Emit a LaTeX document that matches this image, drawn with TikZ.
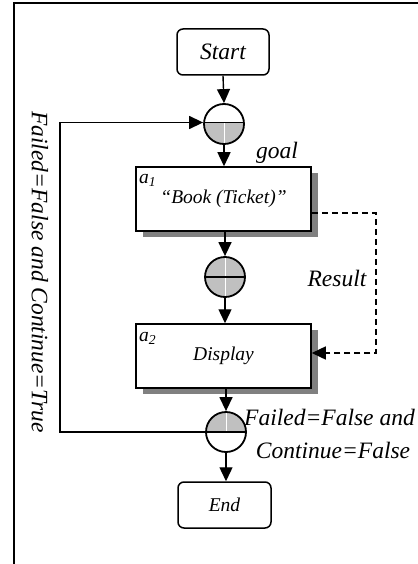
\documentclass[tikz,border=0pt]{standalone}
\usepackage{fontspec}
\setmainfont{Liberation Serif}
\usetikzlibrary{arrows.meta,calc}

\definecolor{joinfill}{HTML}{C0C0C0}
\definecolor{shadowgray}{HTML}{808080}

\tikzset{
  big/.style={font=\fontsize{23.5}{28}\selectfont\itshape},
  mid/.style={font=\fontsize{19.5}{23}\selectfont\itshape},
  terminal/.style={draw, line width=1.5pt, rounded corners=6pt, fill=white,
    inner sep=0pt, mid},
  activity/.style={draw, line width=1.5pt, fill=white, inner sep=0pt,
    minimum width=175pt, minimum height=64pt, mid},
  junction/.style={circle, draw, line width=1.8pt, minimum size=40pt, inner sep=0pt},
  flow/.style={line width=1.4pt, -{Triangle[length=14pt,width=13pt]}},
  dataflow/.style={line width=1.4pt, dash pattern=on 6pt off 4pt,
    -{Triangle[length=14pt,width=13pt]}},
  loopline/.style={line width=1.4pt},
  % lower half of the junction shaded
  lowerhalf/.style={path picture={
    \fill[joinfill] ($(path picture bounding box.west)+(0,-1.5)$)
      rectangle (path picture bounding box.south east);
    \draw[white, line width=0.6pt] ($(path picture bounding box.center)+(0,-1.5)$)
      -- (path picture bounding box.south);
    \draw[line width=1.4pt] ($(path picture bounding box.west)+(0,-1.5)$)
      -- ($(path picture bounding box.east)+(0,-1.5)$);}},
  % junction shaded all over
  fullshade/.style={path picture={
    \fill[joinfill] (path picture bounding box.south west)
      rectangle (path picture bounding box.north east);
    \draw[white, line width=0.6pt] (path picture bounding box.north)
      -- (path picture bounding box.south);
    \draw[line width=1.4pt] (path picture bounding box.west)
      -- (path picture bounding box.east);}},
  % upper half of the junction shaded
  upperhalf/.style={path picture={
    \fill[joinfill] (path picture bounding box.west)
      rectangle (path picture bounding box.north east);
    \draw[white, line width=0.6pt] (path picture bounding box.center)
      -- (path picture bounding box.north);
    \draw[line width=1.4pt] (path picture bounding box.west)
      -- (path picture bounding box.east);}},
}

\begin{document}
\begin{tikzpicture}[x=1pt, y=-1pt]
  \useasboundingbox (0,0) rectangle (417,564);

  % outer frame
  \draw[line width=1.6pt] (14,570) -- (14,3) -- (425,3);

  % start / end
  \node[terminal, minimum width=92pt, minimum height=46pt, font=\fontsize{23.5}{28}\selectfont\itshape]
    (start) at (223,52) {Start};
  \node[terminal, minimum width=93pt, minimum height=46pt] (end) at (224.5,505) {End};

  % junctions
  \node[junction, lowerhalf] (j1) at (224,124) {};
  \node[junction, fullshade] (j2) at (225,277) {};
  \node[junction, upperhalf] (j3) at (226,432) {};

  % activities with drop shadows
  \fill[shadowgray] (143,173) rectangle (318,237);
  \node[activity] (a1) at (223.5,199) {“Book (Ticket)”};
  \fill[shadowgray] (143,330) rectangle (318,394);
  \node[activity] (a2) at (223.5,356) {Display};

  \node[mid, anchor=west, inner sep=0pt] (a1lab) at (139,180) {a\textsubscript{1}};
  \node[mid, anchor=west, inner sep=0pt] (a2lab) at (139,338) {a\textsubscript{2}};

  % main flow
  \draw[flow] (start.south) -- (j1.north);
  \draw[flow] (j1.south) -- (a1.north -| j1.south);
  \draw[flow] (a1.south -| j2.north) -- (j2.north);
  \draw[flow] (j2.south) -- (a2.north -| j2.south);
  \draw[flow] (a2.south -| j3.north) -- (j3.north);
  \draw[flow] (j3.south) -- (end.north -| j3.south);

  % data passed from a1 to a2
  \coordinate (r1) at (376,213);
  \coordinate (r2) at (376,353);
  \draw[dataflow] (a1.east |- r1) -- (r1) -- (r2) -- (a2.east |- r2);

  % repeat loop
  \coordinate (l1) at (60,432);
  \coordinate (l2) at (60,122.5);
  \draw[loopline] (j3.west) -- (l1) -- (l2);
  \draw[flow] (l2) -- (j1.west |- l2);

  % labels
  \node[big] (goal) at (277,153) {goal};
  \node[big] (result) at (337,278) {Result};
  \node[big, anchor=west, inner sep=0pt] (exitA) at (244,417) {Failed=False and};
  \node[big] (exitB) at (333,450) {Continue=False};
  \node[big, rotate=-90] (again) at (40,272) {Failed=False and Continue=True};
\end{tikzpicture}
\end{document}
